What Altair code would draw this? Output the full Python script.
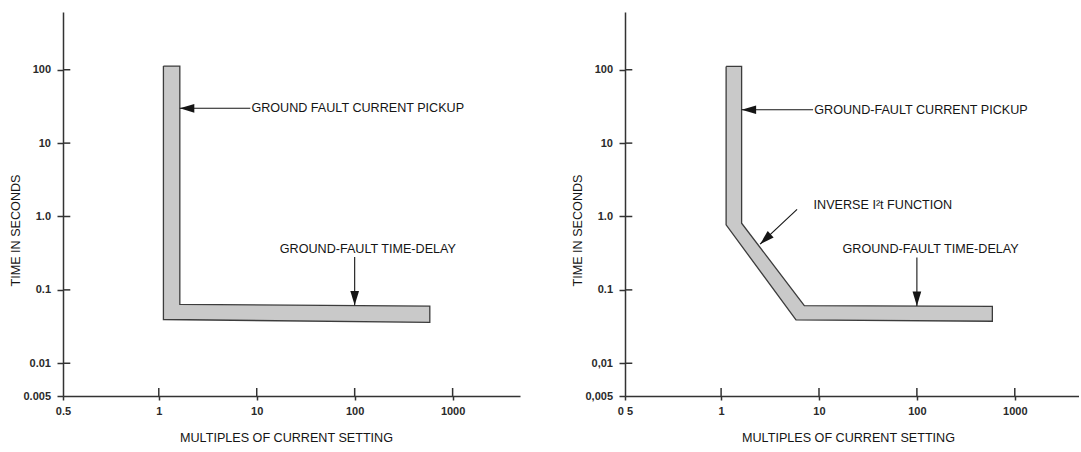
import altair as alt
import pandas as pd

FONT = "Liberation Sans"
INK = "#151515"
AXIS = "#333333"

# ---- data -----------------------------------------------------------------
# band outlines (multiples of current setting, seconds)
left_band_x = [1.115, 1.64, 1.64, 585, 585, 1.115, 1.115]
left_band_y = [112, 112, 0.0633, 0.060, 0.036, 0.0395, 112]
right_band_x = [1.125, 1.62, 1.62, 7.08, 590, 590, 5.82, 1.125, 1.125]
right_band_y = [111, 111, 0.81, 0.0612, 0.0595, 0.0374, 0.039, 0.77, 111]

x_ticks = [1, 10, 100, 1000]
x_tick_labels = ["1", "10", "100", "1000"]
y_ticks = [0.01, 0.1, 1, 10, 100]
left_y_labels = ["0.01", "0.1", "1.0", "10", "100"]
right_y_labels = ["0,01", "0.1", "1.0", "10", "100"]
left_origin_labels = ("0.5", "0.005")
right_origin_labels = ("0 5", "0,005")

left_x_domain = [0.1052, 4875]
right_x_domain = [0.1043, 4529]
y_domain = [0.00358, 612]

# annotations: label, label position, arrow tail, arrow tip, head angle
left_text = ["GROUND FAULT CURRENT PICKUP", "GROUND-FAULT TIME-DELAY"]
left_tx = [8.82, 17.2]
left_ty = [29.8, 0.366]
left_lx1 = [8.6, 100]
left_ly1 = [29.8, 0.281]
left_lx2 = [1.64, 100]
left_ly2 = [29.8, 0.0615]
left_ang = [0, 270]

right_text = ["GROUND-FAULT CURRENT PICKUP", "INVERSE I\u00b2t FUNCTION", "GROUND-FAULT TIME-DELAY"]
right_tx = [8.95, 8.81, 17.4]
right_ty = [28.5, 1.45, 0.363]
right_lx1 = [8.7, 5.97, 100]
right_ly1 = [28.5, 1.25, 0.276]
right_lx2 = [1.62, 2.5, 100]
right_ly2 = [28.5, 0.42, 0.0605]
right_ang = [0, 317, 270]

X_TITLE = "MULTIPLES OF CURRENT SETTING"
Y_TITLE = "TIME IN SECONDS"

H = 384
ARROW = "M0,0 L2,-0.6 L2,0.6 Z"


def label_expr(values, labels):
    expr = "'" + labels[-1] + "'"
    for v, lab in zip(reversed(values[:-1]), reversed(labels[:-1])):
        expr = f"datum.value < {v * 2} ? '{lab}' : " + expr
    return expr


def panel(band_x, band_y, texts, tx, ty, lx1, ly1, lx2, ly2, ang,
          x_domain, width, origin_labels, y_labels):
    xvals = [x_domain[0]] + x_ticks
    yvals = [y_domain[0]] + y_ticks
    xscale = alt.Scale(type="log", domain=x_domain, nice=False)
    yscale = alt.Scale(type="log", domain=y_domain, nice=False)
    xaxis = alt.Axis(
        values=xvals,
        labelExpr=label_expr(xvals, [origin_labels[0]] + x_tick_labels),
        title=X_TITLE, grid=False, labelFlush=False, labelOverlap=False,
        domainColor=AXIS, domainWidth=1.5, tickColor=AXIS, tickWidth=1.5,
        tickSize=4, labelPadding=5, labelFont=FONT, labelFontSize=11,
        labelFontWeight="bold", labelColor="#2a2a2a",
        titleFont=FONT, titleFontSize=12.6,
        titleFontWeight="normal", titleColor=INK, titleX=223, titleY=41,
        titleAlign="center", titleBaseline="middle",
    )
    yaxis = alt.Axis(
        values=yvals,
        labelExpr=label_expr(yvals, [origin_labels[1]] + y_labels),
        title=Y_TITLE, grid=False, labelFlush=False, labelOverlap=False,
        domainColor=AXIS, domainWidth=1.5, tickColor=AXIS, tickWidth=1.5,
        tickSize=6, labelPadding=6.5, labelFont=FONT, labelFontSize=11,
        labelFontWeight="bold", labelColor="#2a2a2a",
        titleFont=FONT, titleFontSize=12.6,
        titleFontWeight="normal", titleColor=INK, titleX=-47.5, titleY=218,
        titleAlign="center", titleBaseline="middle", titleAngle=270,
    )

    def X(f):
        return alt.X(f + ":Q", scale=xscale, axis=xaxis)

    def Y(f):
        return alt.Y(f + ":Q", scale=yscale, axis=yaxis)

    band_df = pd.DataFrame({"x": band_x, "y": band_y, "i": range(len(band_x))})
    ann = pd.DataFrame({"text": texts, "tx": tx, "ty": ty, "lx1": lx1,
                        "ly1": ly1, "lx2": lx2, "ly2": ly2, "angle": ang})

    band = alt.Chart(band_df).mark_line(
        fill="#c9c9c9", stroke="#3c3c3c", strokeWidth=1.3, strokeJoin="miter"
    ).encode(x=X("x"), y=Y("y"), order=alt.Order("i:Q"))

    xin = alt.Chart(pd.DataFrame({"x": x_ticks})).mark_rule(
        color=AXIS, strokeWidth=1.5
    ).encode(x=X("x"), y=alt.value(H), y2=alt.value(H - 8))
    yin = alt.Chart(pd.DataFrame({"y": y_ticks})).mark_rule(
        color=AXIS, strokeWidth=1.5
    ).encode(y=Y("y"), x=alt.value(0), x2=alt.value(7.3))

    lines = alt.Chart(ann).mark_rule(color=INK, strokeWidth=1.1).encode(
        x=X("lx1"), y=Y("ly1"), x2="lx2", y2="ly2")
    heads = alt.Chart(ann).mark_point(
        shape=ARROW, filled=True, size=210, color=INK, opacity=1, strokeWidth=0
    ).encode(x=X("lx2"), y=Y("ly2"), angle=alt.Angle("angle:Q", scale=None))
    labels = alt.Chart(ann).mark_text(
        align="left", baseline="middle", font=FONT, fontSize=12.6, color=INK
    ).encode(x=X("tx"), y=Y("ty"), text="text:N")

    return alt.layer(band, xin, yin, lines, heads, labels).properties(
        width=width, height=H)


left = panel(left_band_x, left_band_y, left_text, left_tx, left_ty, left_lx1,
             left_ly1, left_lx2, left_ly2, left_ang, left_x_domain, 457,
             left_origin_labels, left_y_labels)
right = panel(right_band_x, right_band_y, right_text, right_tx, right_ty,
              right_lx1, right_ly1, right_lx2, right_ly2, right_ang,
              right_x_domain, 454, right_origin_labels, right_y_labels)

chart = alt.hconcat(left, right, spacing=51).properties(
    padding={"left": 9, "top": 12, "right": 0, "bottom": 0},
    background="white",
).configure_view(stroke=None)

chart.save("out.html", embed_options={"renderer": "svg", "actions": False})
